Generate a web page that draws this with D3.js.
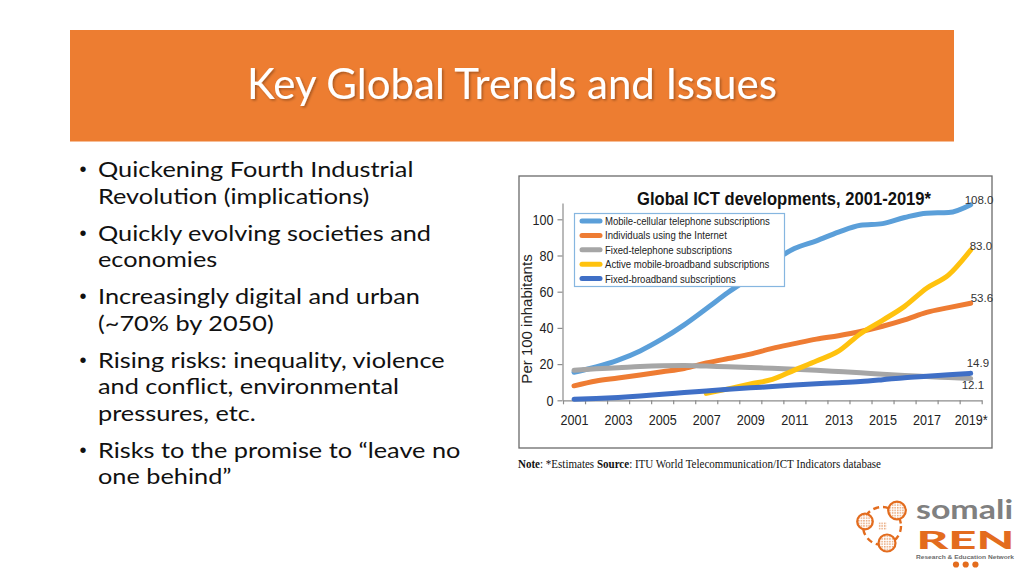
<!DOCTYPE html>
<html><head><meta charset="utf-8">
<script src="https://cdn.jsdelivr.net/npm/d3@7"></script>
<style>html,body{margin:0;padding:0;background:#fff;} svg{display:block;}</style>
</head><body>
<svg id="slide" width="1024" height="576"></svg>
<script>
// ---------- DATA ----------
const years = ["2001","2002","2003","2004","2005","2006","2007","2008","2009","2010",
               "2011","2012","2013","2014","2015","2016","2017","2018","2019"];
const xTickLabels = ["2001","2003","2005","2007","2009","2011","2013","2015","2017","2019*"];
const yTicks = [0, 20, 40, 60, 80, 100];
const seriesNames = [
  "Mobile-cellular telephone subscriptions",
  "Individuals using the Internet",
  "Fixed-telephone subscriptions",
  "Active mobile-broadband subscriptions",
  "Fixed-broadband subscriptions"
];
const mobileCellular  = [15.5,18.4,22.2,27.3,33.9,41.7,50.6,59.7,67.9,76.6,83.8,88.1,92.9,96.7,97.6,101.0,103.4,103.7,108.0];
const internetUsers   = [8.0,10.7,12.3,14.0,15.8,17.6,20.6,23.1,25.5,28.7,31.3,33.8,35.7,38.0,40.9,44.4,48.6,51.2,53.6];
const fixedTelephone  = [16.6,17.4,18.0,18.7,19.1,19.2,18.9,18.5,18.1,17.7,17.2,16.6,15.9,15.2,14.4,13.7,13.1,12.6,12.1];
const mobileBroadband = [null,null,null,null,null,null,3.8,6.3,9.0,11.5,16.7,21.7,27.1,36.8,44.2,51.9,61.9,69.3,83.0];
const fixedBroadband  = [0.6,1.0,1.6,2.4,3.4,4.3,5.2,6.1,6.9,7.6,8.4,9.1,9.7,10.4,11.4,12.5,13.3,14.1,14.9];

const slideTitle = "Key Global Trends and Issues";
const chartTitle = "Global ICT developments, 2001-2019*";
const yAxisTitle = "Per 100 inhabitants";
const bulletItems = [
  ["Quickening Fourth Industrial", "Revolution (implications)"],
  ["Quickly evolving societies and", "economies"],
  ["Increasingly digital and urban", "(~70% by 2050)"],
  ["Rising risks: inequality, violence", "and conflict, environmental", "pressures, etc."],
  ["Risks to the promise to \u201cleave no", "one behind\u201d"]
];

// ---------- STYLE / LAYOUT ----------
const seriesValues = [mobileCellular, internetUsers, fixedTelephone, mobileBroadband, fixedBroadband];
const seriesColors = ["#5b9fd9", "#ee7c33", "#a6a6a6", "#ffc20e", "#3f6fc6"];
const endLabelOffsets = [[-6,-1],[0,-1],[-9,11],[-1,0],[-4,-6.5]];

const svg = d3.select("#slide");
svg.append("rect").attr("width",1024).attr("height",576).attr("fill","#fff");

function condense(sel, k){
  sel.each(function(){
    const w = this.getComputedTextLength();
    this.setAttribute("textLength", (w*k).toFixed(1));
    this.setAttribute("lengthAdjust","spacingAndGlyphs");
  });
}

// Title bar
const defs = svg.append("defs");
const f = defs.append("filter").attr("id","tshadow").attr("x","-5%").attr("y","-20%").attr("width","110%").attr("height","150%");
f.append("feDropShadow").attr("dx",1.5).attr("dy",1.5).attr("stdDeviation",1).attr("flood-color","#000").attr("flood-opacity",0.3);

svg.append("rect").attr("x",70).attr("y",30).attr("width",884).attr("height",111.5).attr("fill","#ed7d31");
svg.append("text").attr("x",512).attr("y",99).attr("text-anchor","middle")
  .attr("font-family","Lato, 'Open Sans', sans-serif").attr("font-size",42)
  .attr("fill","#fff").attr("filter","url(#tshadow)").text(slideTitle);

// Bullets
const bg = svg.append("g").attr("font-family","Lato, 'Noto Sans', sans-serif").attr("font-size",22).attr("fill","#111");
let yb = 177;
bulletItems.forEach((lines) => {
  bg.append("text").attr("x",83).attr("y",yb - 1).attr("text-anchor","middle")
    .attr("font-family","'Liberation Sans', Arial, sans-serif").attr("font-size",20).text("\u2022");
  lines.forEach((ln, li) => {
    bg.append("text").attr("class","btxt").attr("x",98).attr("y",yb + li*26.5).text(ln);
  });
  yb += (lines.length-1)*26.5 + 37;
});
condense(bg.selectAll("text.btxt"), 1.15);

// ---------- CHART ----------
const chart = svg.append("g").attr("font-family","'Liberation Sans', Arial, sans-serif");
chart.append("rect").attr("x",519).attr("y",176).attr("width",473).attr("height",272)
  .attr("fill","#fff").attr("stroke","#6a6a6a").attr("stroke-width",1.3);

const x = d3.scaleLinear().domain([-0.5, years.length - 0.5]).range([563, 981.7]);
const y = d3.scaleLinear().domain([0, 109]).range([400.3, 203]);

// X axis: tick marks on band boundaries
const boundaries = d3.range(years.length + 1).map(i => i - 0.5);
const xAxis = chart.append("g").attr("transform","translate(0,400.3)")
  .call(d3.axisBottom(x).tickValues(boundaries).tickFormat("").tickSizeInner(4).tickSizeOuter(0));
xAxis.selectAll("path,line").attr("stroke","#8c8c8c").attr("stroke-width",1.2);

const labelIdx = xTickLabels.map(l => years.indexOf(l.replace("*","")));
const xLab = chart.append("g").attr("transform","translate(0,400.3)")
  .call(d3.axisBottom(x).tickValues(labelIdx).tickFormat((d,i)=>xTickLabels[i]).tickSize(0).tickPadding(14));
xLab.select(".domain").remove();
xLab.selectAll("text").attr("font-size",15).attr("fill","#222").attr("font-family","'Liberation Sans', Arial, sans-serif");
condense(xLab.selectAll("text"), 0.84);

// Y axis
const yAxis = chart.append("g").attr("transform","translate(562.5,0)")
  .call(d3.axisLeft(y).tickValues(yTicks).tickSizeInner(5).tickSizeOuter(0).tickPadding(4));
yAxis.selectAll("path,line").attr("stroke","#8c8c8c").attr("stroke-width",1.2);
yAxis.selectAll("text").attr("font-size",15).attr("fill","#222").attr("font-family","'Liberation Sans', Arial, sans-serif");
condense(yAxis.selectAll("text"), 0.84);

chart.append("text").attr("transform","translate(532,319) rotate(-90)").attr("text-anchor","middle")
  .attr("font-size",15).attr("fill","#222").text(yAxisTitle);

// Lines
const line = d3.line().defined(d => d != null).x((d,i)=>x(i)).y(d=>y(d)).curve(d3.curveMonotoneX);
seriesValues.forEach((vals, si) => {
  chart.append("path").datum(vals).attr("d", line).attr("fill","none")
    .attr("stroke", seriesColors[si]).attr("stroke-width",5).attr("stroke-linecap","round").attr("stroke-linejoin","round");
});

// End labels
seriesValues.forEach((vals, si) => {
  const i = vals.length - 1;
  chart.append("text").attr("x", x(i) + endLabelOffsets[si][0]).attr("y", y(vals[i]) + endLabelOffsets[si][1])
    .attr("font-size",11.5).attr("fill","#333").text(d3.format(".1f")(vals[i]));
});

// Chart title
chart.append("text").attr("x",784).attr("y",205).attr("text-anchor","middle")
  .attr("font-size",18).attr("font-weight","bold").attr("fill","#111")
  .attr("textLength",294).attr("lengthAdjust","spacingAndGlyphs").text(chartTitle);

// Legend
const lg = chart.append("g");
lg.append("rect").attr("x",574.5).attr("y",213.5).attr("width",210).attr("height",73)
  .attr("fill","#fff").attr("stroke","#86b6e0").attr("stroke-width",1.2);
seriesNames.forEach((nm, si) => {
  const ly = 221 + si*14.4;
  lg.append("line").attr("x1",582).attr("x2",600).attr("y1",ly).attr("y2",ly)
    .attr("stroke",seriesColors[si]).attr("stroke-width",5).attr("stroke-linecap","round");
  lg.append("text").attr("x",605).attr("y",ly+4).attr("font-size",11).attr("fill","#222").text(nm);
});
condense(lg.selectAll("text"), 0.87);

// Note
const note = svg.append("text").attr("x",518).attr("y",468).attr("font-family","'Liberation Serif', 'Times New Roman', serif")
  .attr("font-size",11.5).attr("fill","#111");
note.append("tspan").attr("font-weight","bold").text("Note");
note.append("tspan").text(":  *Estimates ");
note.append("tspan").attr("font-weight","bold").text("Source");
note.append("tspan").text(": ITU World Telecommunication/ICT Indicators database");
note.attr("textLength",363).attr("lengthAdjust","spacingAndGlyphs");

// ---------- LOGO ----------
const logo = svg.append("g");
const pat = defs.append("pattern").attr("id","dots").attr("width",2.6).attr("height",2.6).attr("patternUnits","userSpaceOnUse");
pat.append("rect").attr("width",2.6).attr("height",2.6).attr("fill","#fff");
pat.append("rect").attr("width",1.5).attr("height",1.5).attr("fill","#e9a77a");
logo.append("circle").attr("cx",882).attr("cy",526).attr("r",19).attr("fill","none")
  .attr("stroke","#e36c1e").attr("stroke-width",2.4).attr("stroke-dasharray","6,4");
logo.append("rect").attr("x",878.5).attr("y",522).attr("width",8).attr("height",8).attr("fill","url(#dots)");
[[865,521.5,7.8],[897,510.5,8.8],[887,543,8.5]].forEach(c => {
  logo.append("circle").attr("cx",c[0]).attr("cy",c[1]).attr("r",c[2]).attr("fill","url(#dots)")
    .attr("stroke","#e36c1e").attr("stroke-width",2.2);
});
logo.append("text").attr("x",916).attr("y",518.5).attr("font-family","Lato, sans-serif").attr("font-weight","bold")
  .attr("font-size",27).attr("fill","#808080").attr("textLength",97).attr("lengthAdjust","spacingAndGlyphs").text("somali");
logo.append("text").attr("x",916.5).attr("y",548.5).attr("font-family","Lato, sans-serif").attr("font-weight",900)
  .attr("font-size",24).attr("fill","#e36c1e").attr("textLength",98).attr("lengthAdjust","spacingAndGlyphs").text("REN");
logo.append("text").attr("x",916).attr("y",559).attr("font-family","'Liberation Sans', sans-serif").attr("font-weight","bold")
  .attr("font-size",5.8).attr("fill","#6b6b6b").attr("textLength",98).attr("lengthAdjust","spacingAndGlyphs").text("Research & Education Network");
[956,965.7,975.4].forEach(cx => logo.append("circle").attr("cx",cx).attr("cy",564.5).attr("r",3.1).attr("fill","#e36c1e"));
</script>
</body></html>
